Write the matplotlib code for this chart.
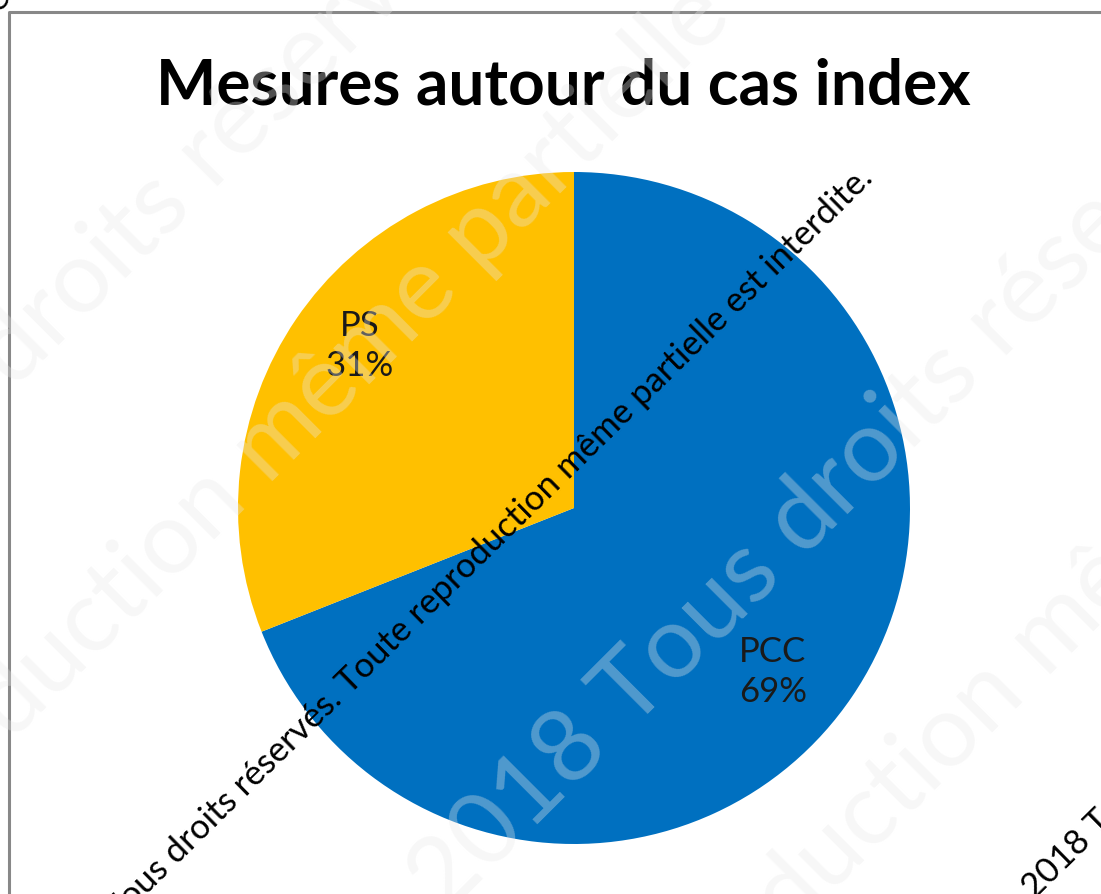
import matplotlib
matplotlib.use('Agg')
import matplotlib.pyplot as plt
from matplotlib.lines import Line2D

# data
categories = ['PCC', 'PS']
shares = [69, 31]
colors = ['#0070C0', '#FFC000']
title = 'Mesures autour du cas index'
notice = 'Tous droits réservés. Toute reproduction même partielle est interdite.'

W, H = 1101, 894
plt.rcParams['font.family'] = ['Lato', 'DejaVu Sans']


def Y(y):
    # image row (from top) -> data y (from bottom)
    return H - y


fig = plt.figure(figsize=(W / 100, H / 100), dpi=100)
ax = fig.add_axes([0, 0, 1, 1])

wedges, _, autotexts = ax.pie(shares, colors=colors, startangle=90, counterclock=False,
                              center=(574, Y(508)), radius=336, frame=True,
                              autopct='%1.0f%%', pctdistance=0.79,
                              wedgeprops=dict(linewidth=0))
# Excel "best fit" label spots
label_pos = {'PCC': (773, Y(672)), 'PS': (360, Y(346))}
for name, t in zip(categories, autotexts):
    t.set_text(f'{name}\n{t.get_text()}')
    t.set_position(label_pos[name])
    t.set_fontsize(25)
    t.set_color('#1a1a1a')
    t.set_linespacing(1.3)

ax.set_xlim(0, W)
ax.set_ylim(0, H)
ax.axis('off')

ax.text(563, Y(86), title, ha='center', va='center', fontsize=46, fontweight='bold')

# chart frame (top and left edges visible)
ax.add_line(Line2D([8.5, 8.5, W + 5], [-5, Y(11.5), Y(11.5)], color='#888888', lw=2.2))

# faint watermark, 45 deg
wm = dict(rotation=45, rotation_mode='anchor', ha='left', va='center', fontsize=73,
          color='#e8e8e8', alpha=0.35, zorder=5)
ax.text(-6, Y(370), 'droits réservés. Toute reproduction', **wm)
ax.text(-8, Y(722), 'duction même partielle est interdite.', **wm)
ax.text(425, Y(895), '2018 Tous droits réservés. Toute', **wm)
ax.text(770, Y(915), 'duction même partielle', **wm)

# black notice lines
bl = dict(rotation=44.5, rotation_mode='anchor', va='baseline', fontsize=25, color='black', zorder=6)
ax.text(874, Y(180), '© 2018 ' + notice, ha='right', **bl)
ax.text(1035, Y(900), '2018 ' + notice, ha='left', **bl)
ax.text(18, Y(-5), notice, ha='right', **bl)

fig.savefig('out.png', dpi=100)
